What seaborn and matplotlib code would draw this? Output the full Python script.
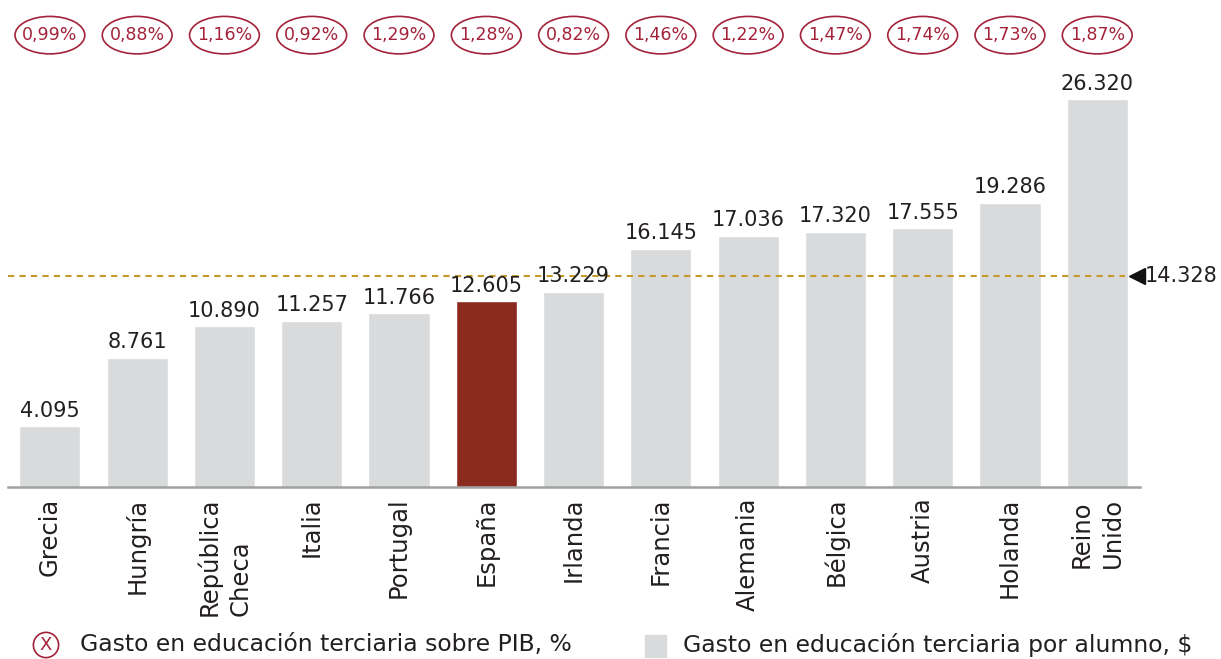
import seaborn as sns
import matplotlib.pyplot as plt
from matplotlib.patches import Ellipse, Rectangle
import matplotlib.transforms as mtransforms

paises = ['Grecia', 'Hungría', 'República\nCheca', 'Italia', 'Portugal', 'España',
          'Irlanda', 'Francia', 'Alemania', 'Bélgica', 'Austria', 'Holanda', 'Reino\nUnido']
gasto_alumno = [4095, 8761, 10890, 11257, 11766, 12605, 13229, 16145, 17036, 17320, 17555, 19286, 26320]
gasto_pib = ['0,99%', '0,88%', '1,16%', '0,92%', '1,29%', '1,28%', '0,82%',
             '1,46%', '1,22%', '1,47%', '1,74%', '1,73%', '1,87%']
media = 14328

gris = '#d9dadc'
rojo_oscuro = '#8b2a1e'
granate = '#a3233a'
oro = '#c49a2c'
texto = '#231f20'
colores = [rojo_oscuro if p == 'España' else gris for p in paises]

sns.set_style('white')
plt.rcParams['font.family'] = ['DejaVu Sans']

fig = plt.figure(figsize=(12.21, 6.59), dpi=100)
ax = fig.add_axes([8 / 1221, 172.5 / 659, 1132 / 1221, 425.8 / 659])

sns.barplot(x=paises, y=gasto_alumno, hue=paises, palette=colores, legend=False,
            width=0.7, saturation=1, ax=ax)

ax.set_xlim(-0.48, 12.49)
ax.set_ylim(0, 28950)
sns.despine(ax=ax, left=True)
ax.spines['bottom'].set_color('#a0a0a0')
ax.spines['bottom'].set_linewidth(1.8)
ax.set_yticks([])
ax.set_xlabel('')
ax.set_ylabel('')
ax.tick_params(axis='x', length=0, pad=8, labelsize=17.5, colors=texto)
for t in ax.get_xticklabels():
    t.set_rotation(90)
    t.set_multialignment('left')
    t.set_verticalalignment('top')
    t.set_linespacing(1.35)

# etiquetas de valor
for cont in ax.containers:
    ax.bar_label(cont, labels=[f'{v:,.0f}'.replace(',', '.') for v in cont.datavalues],
                 padding=4, fontsize=15, color=texto)

# línea de la media
ax.axhline(media, xmin=0, xmax=0.987, color=oro, ls=(0, (3, 2.5)), lw=1.5)
ax.plot([12.45], [media], marker='<', color='#111111', markersize=11, clip_on=False)
ax.text(12.54, media, f'{media:,}'.replace(',', '.'), fontsize=15, color=texto,
        va='center', ha='left', clip_on=False)

# % sobre PIB en elipses
trans = mtransforms.blended_transform_factory(ax.transData, ax.transAxes)
for i, pct in enumerate(gasto_pib):
    ax.add_patch(Ellipse((i, 1.060), 0.80, 0.088, transform=trans, fill=False,
                         ec=granate, lw=1.2, clip_on=False))
    ax.text(i, 1.060, pct, transform=trans, ha='center', va='center',
            fontsize=12.5, color=granate)

# leyenda
fig.text(46 / 1221, 1 - 645 / 659, 'X', ha='center', va='center', fontsize=13,
         color=granate, bbox=dict(boxstyle='circle,pad=0.2', fc='white', ec=granate, lw=1.2))
fig.text(80 / 1221, 1 - 645 / 659, 'Gasto en educación terciaria sobre PIB, %',
         ha='left', va='center', fontsize=16.9, color=texto)
fig.patches.append(Rectangle((645 / 1221, 1 - 657 / 659), 21 / 1221, 22 / 659,
                             transform=fig.transFigure, color=gris))
fig.text(683 / 1221, 1 - 645 / 659, 'Gasto en educación terciaria por alumno, $',
         ha='left', va='center', fontsize=16.9, color=texto)

fig.savefig('out.png', dpi=100)
